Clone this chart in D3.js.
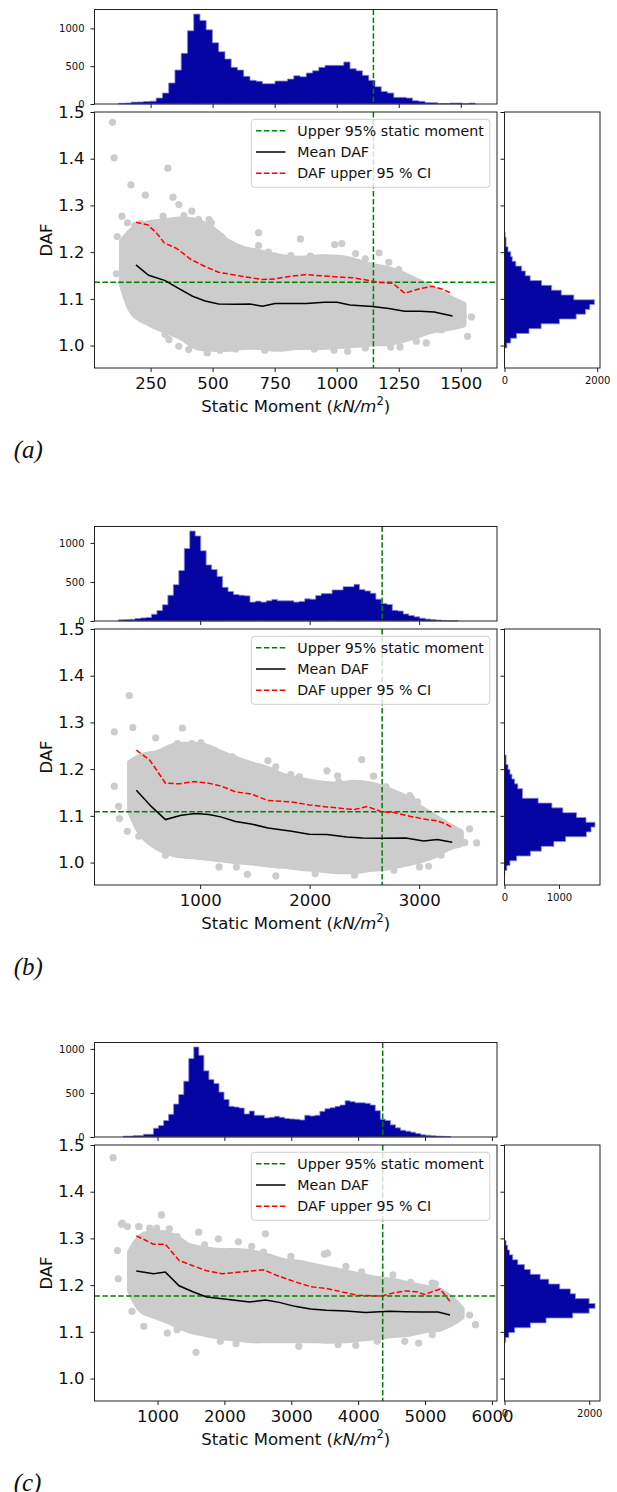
<!DOCTYPE html>
<html>
<head>
<meta charset="utf-8">
<title>DAF vs static moment</title>
<script src="https://cdn.jsdelivr.net/npm/d3@7"></script>
<style>
  body { margin: 0; background: #fff; }
  svg { font-family: "DejaVu Sans", sans-serif; }
</style>
</head>
<body>
<script>

// ---------- data ----------
// panel (a)
var xDomA = [24, 1646];
var xTicksA = [250, 500, 750, 1000, 1250, 1500];
var topBinsA = [121.3, 25.2];          // first edge, bin width (kN/m2)
var topHistA = [10, 13, 25, 27, 33, 38, 79, 145, 278, 449, 670, 969, 1189, 1106, 982, 810, 692, 595, 485, 449,
                366, 313, 300, 269, 269, 304, 304, 330, 374, 361, 410, 440, 485, 511, 511, 511, 555, 467, 440, 379,
                313, 229, 167, 145, 88, 88, 79, 44, 35, 20, 18, 5, 5, 13, 13, 3, 12];
var sideBinsA = [0.995, 0.0103];      // first edge, bin width (DAF)
var sideHistA = [50, 134, 260, 529, 790, 1184, 1546, 1747, 1840, 1940, 1495, 1226, 1016, 800, 554, 450, 370, 244,
                 168, 134, 76, 34, 34, 15];
var sideTicksA = [0, 2000];
var meanXA = [191, 242, 309, 359, 419, 470, 524, 593, 650, 701, 752, 878, 951, 1002, 1053, 1144, 1210, 1274, 1337, 1393, 1467];
var meanA  = [1.1727, 1.1506, 1.139, 1.1235, 1.1056, 1.0956, 1.0892, 1.0885, 1.0892, 1.0842, 1.0899, 1.0899, 1.0928,
              1.0928, 1.0871, 1.0835, 1.0792, 1.0735, 1.0735, 1.072, 1.0635];
var ciXA = [191, 239, 277, 305, 356, 413, 467, 524, 593, 641, 701, 752, 815, 878, 941, 1005, 1068, 1131, 1172, 1226,
            1274, 1337, 1384, 1426, 1457];
var ciA  = [1.2641, 1.2584, 1.2391, 1.2198, 1.2077, 1.1842, 1.1699, 1.157, 1.1506, 1.1463, 1.1413, 1.1428, 1.1485,
            1.152, 1.1492, 1.147, 1.1449, 1.1392, 1.1349, 1.1335, 1.112, 1.122, 1.127, 1.1206, 1.1128];
var cloudXA  = [134.5, 182, 245, 308.5, 372, 435, 498, 562, 625, 688, 752, 847, 941.5, 1036, 1131, 1226, 1305.5, 1384.5, 1463.5, 1511];
var cloudHiA = [1.222, 1.25, 1.262, 1.266, 1.27, 1.266, 1.25, 1.222, 1.207, 1.2, 1.192, 1.186, 1.189,
                1.186, 1.172, 1.161, 1.143, 1.122, 1.1, 1.088];
var cloudLoA = [1.132, 1.068, 1.047, 1.032, 1.018, 0.997, 0.993, 0.993, 0.997, 0.997, 0.993, 0.997, 0.997,
                1.0, 1.004, 1.007, 1.018, 1.032, 1.039, 1.045];
var pointsA = [[96.5,1.478],[103,1.4019],[319.6,1.3797],[171,1.344],[229,1.322],[340,1.3176],[134.5,1.277],[112,1.1535],
  [157,1.2627],[115.5,1.2334],[147,1.2184],[364,1.3019],[416,1.2877],[486,1.2698],[685,1.2413],[854,1.2284],[685,1.2141],
  [725,1.1999],[992,1.2163],[1020.6,1.2184],[1076,1.197],[1171,1.1984],[1210,1.1784],[1297.5,1.1399],[1345,1.1199],
  [1408,1.1128],[1479,1.0935],[1543,1.0614],[1527,1.02],[1361,1.0057],[1218,0.9971],[1255,0.9971],[1044,0.9879],
  [710,0.99],[751.6,0.9971],[478,0.9843],[308.5,1.0236],[253,1.05],[237,1.0592],[198,1.07],[177,1.0964],[1448,1.07],
  [1424,1.0343],[1464,1.0592],[1511,1.0628],
  [186.7,1.257],[210.4,1.2612],[269,1.2577],[300.6,1.277],[384.5,1.2784],[443,1.2698],[495,1.2627],[533,1.2341],
  [558.5,1.2127],[593,1.2091],[625,1.202],[751.6,1.1913],[815,1.1927],[894,1.1913],[1115.5,1.1856],[1250,1.1627],
  [324,1.0128],[364,0.9986],[403.5,0.9914],[530,0.99],[593,0.9929],[910,0.9929],[989,0.99],[1115.5,0.995],
  [1321,1.0093],[1416,1.0343]];
var upperMomentA = 1148, upperDafA = 1.1355;

// panel (b)
var xDomB = [35, 3711];
var xTicksB = [1000, 2000, 3000];
var topBinsB = [255, 50];
var topHistB = [15, 19, 22, 32, 40, 46, 87, 133, 208, 330, 465, 646, 928, 1152, 1089, 899, 718, 659, 571, 431, 377, 339,
                330, 322, 242, 255, 242, 259, 276, 259, 259, 259, 242, 251, 284, 280, 326, 351, 351, 398, 398, 440, 440,
                469, 402, 385, 356, 280, 225, 212, 137, 128, 91, 70, 53, 36, 25, 18, 12, 8, 5, 4];
var sideBinsB = [0.9729, 0.0103];
var sideHistB = [7, 43, 100, 223, 475, 676, 906, 1122, 1503, 1589, 1661, 1496, 1323, 1071, 870, 618, 331, 331, 244,
                 187, 137, 100, 65, 29, 29];
var sideTicksB = [0, 1000];
var meanXB = [417, 558, 683, 827, 960, 1079, 1187, 1324, 1464, 1619, 1835, 1996, 2158, 2338, 2482, 2662, 2878, 2932, 3040, 3165, 3302];
var meanB  = [1.1549, 1.1192, 1.0921, 1.1014, 1.1049, 1.1028, 1.0978, 1.0878, 1.0828, 1.0742, 1.0671, 1.0607, 1.06,
              1.055, 1.0528, 1.0521, 1.0528, 1.0507, 1.0464, 1.0492, 1.0435];
var ciXB = [417, 540, 683, 809, 942, 1079, 1187, 1324, 1464, 1619, 1835, 1996, 2158, 2338, 2410, 2525, 2662, 2770, 2914,
            3057, 3165, 3237, 3302];
var ciB  = [1.2405, 1.2191, 1.1699, 1.1685, 1.1734, 1.1699, 1.1642, 1.1513, 1.147, 1.1328, 1.1299, 1.1235, 1.1192,
            1.1149, 1.1135, 1.1199, 1.1085, 1.1071, 1.0992, 1.0928, 1.0892, 1.0835, 1.0749];
var cloudXB  = [360, 467.6, 611.5, 755.4, 899, 1043, 1187, 1331, 1475, 1619, 1762.6, 1906.4, 2050, 2230, 2410, 2554,
                2698, 2842, 2985.5, 3129.4, 3273, 3381];
var cloudHiB = [1.214, 1.228, 1.235, 1.249, 1.252, 1.249, 1.235, 1.221, 1.21, 1.2, 1.185, 1.178, 1.171,
                1.167, 1.171, 1.167, 1.157, 1.143, 1.121, 1.1, 1.079, 1.065];
var cloudLoB = [1.11, 1.06, 1.032, 1.018, 1.014, 1.011, 1.007, 1.003, 1.0, 0.996, 0.993, 0.989, 0.986,
                0.982, 0.982, 0.986, 0.989, 0.996, 1.003, 1.014, 1.032, 1.039];
var pointsB = [[352.5,1.3576],[216,1.2798],[385,1.2891],[593.5,1.267],[838,1.2877],[1007,1.257],[924.5,1.2548],
  [798.6,1.2477],[1126,1.2405],[1316.5,1.2213],[1618.7,1.2177],[1421,1.1963],[1827,1.1884],[2158,1.1963],[2255.5,1.1856],
  [2475,1.2206],[2583,1.1849],[2914,1.1435],[2932,1.137],[3129,1.0764],[3237,1.0742],[3327,1.0585],[3460,1.0721],
  [3525,1.0421],[3417,1.0428],[3255,1.0385],[3003.5,0.9907],[3086,0.9921],[1690.6,0.9714],[1431.6,0.975],[1172.7,0.9907],
  [216,1.1635],[262.6,1.0942],[334.5,1.0671],[439,1.0564],[256,1.1206],
  [683.5,1.2405],[791.4,1.2548],[1043,1.2477],[1295,1.2263],[1690.6,1.2049],[1906.4,1.1834],[2266,1.1727],[2698,1.162],
  [2985.5,1.1299],[683.5,1.0157],[1331,0.9907],[2050,0.9764],[2410,0.9729],[2770,0.9836],[3201,1.0157]];
var upperMomentB = 2662, upperDafB = 1.1086;

// panel (c)
var xDomC = [58, 6076];
var xTicksC = [1000, 2000, 3000, 4000, 5000, 6000];
var topBinsC = [487, 75.4];
var topHistC = [10, 10, 17, 17, 32, 32, 100, 130, 187, 258, 374, 483, 634, 890, 1022, 928, 751, 653, 608, 510, 427, 348,
                340, 329, 262, 295, 247, 247, 217, 224, 235, 224, 209, 205, 202, 194, 247, 239, 247, 292, 321, 333, 348,
                363, 412, 401, 389, 389, 382, 363, 299, 202, 187, 138, 104, 77, 66, 55, 40, 25, 20, 15, 10, 8, 5];
var sideBinsC = [1.0776, 0.0104];
var sideHistC = [28, 102, 240, 610, 981, 1610, 1998, 2137, 1998, 1674, 1554, 1304, 1045, 842, 610, 472, 314, 194, 120, 74, 37];
var sideTicksC = [0, 2000];
var meanXC = [683, 941, 1117, 1323, 1528, 1734, 1998, 2379, 2614, 2819, 3054, 3289, 3524, 3817, 4111, 4463, 4697, 4932, 5196, 5372];
var meanC  = [1.2301, 1.2244, 1.2279, 1.1987, 1.1859, 1.1745, 1.1702, 1.1638, 1.1681, 1.1631, 1.1546, 1.1489, 1.146,
              1.1446, 1.1417, 1.1439, 1.1432, 1.1425, 1.1425, 1.136];
var ciXC = [683, 941, 1117, 1323, 1528, 1734, 1968, 2232, 2584, 2819, 3054, 3289, 3524, 3817, 3993, 4345, 4521, 4697,
            4873, 4991, 5226, 5372];
var ciC  = [1.3056, 1.2877, 1.2877, 1.2528, 1.2415, 1.2308, 1.2244, 1.2279, 1.2329, 1.2187, 1.2073, 1.1966, 1.193,
            1.1838, 1.1781, 1.1766, 1.183, 1.1873, 1.1859, 1.1802, 1.1916, 1.1652];
var cloudXC  = [589, 765, 1000, 1235, 1470, 1704, 1939, 2174, 2409, 2643, 2878, 3113, 3348, 3582, 3817, 4052, 4287,
                4521, 4756, 4991, 5226, 5402, 5548];
var cloudHiC = [1.27, 1.305, 1.312, 1.305, 1.284, 1.277, 1.273, 1.273, 1.27, 1.262, 1.252, 1.248, 1.241,
                1.234, 1.227, 1.22, 1.213, 1.209, 1.202, 1.195, 1.188, 1.17, 1.149];
var cloudLoC = [1.188, 1.146, 1.132, 1.118, 1.103, 1.096, 1.089, 1.086, 1.082, 1.082, 1.082, 1.082, 1.082,
                1.081, 1.082, 1.086, 1.089, 1.093, 1.096, 1.103, 1.107, 1.118, 1.132];
var pointsC = [[336.8,1.4729],[1059,1.3504],[472,1.3327],[548,1.3255],[718,1.3255],[988,1.322],[1176,1.3205],[401,1.2742],
  [460,1.3305],[724,1.3255],[1616,1.3134],[1910,1.2991],[2209,1.2927],[2614,1.3098],[2585,1.2707],[3494,1.2664],
  [3541,1.2685],[3670,1.2308],[4052,1.2286],[4287,1.2115],[4786,1.2058],[5155,1.203],[5519,1.1439],[5666,1.136],
  [5754,1.1154],[4903,1.0762],[4697,1.0798],[3964,1.0712],[3700,1.0726],[2174,1.0748],[1575,1.0563],[1147,1.0976],
  [795,1.1118],[619,1.1439],[413,1.2137],
  [883,1.3219],[1293,1.3041],[1704,1.2863],[2409,1.2828],[2995.5,1.2614],[3817,1.24],[4521,1.2222],[5108,1.2044],
  [1293,1.1047],[1939,1.0798],[3113,1.0691],[4287,1.0798],[5108,1.094]];
var upperMomentC = 4367, upperDafC = 1.1767;

var dafTicks = [1.0, 1.1, 1.2, 1.3, 1.4, 1.5];
var countTicks = [0, 500, 1000];
var legendLabels = ['Upper 95% static moment', 'Mean DAF', 'DAF upper 95 % CI'];

// ---------- layout ----------
var L = 94.5, R = 497, sideL = 504.5, sideR = 600;
var topT = 9.5, topB = 104, mainT = 112, mainB = 368;
var histFill = '#0505a3', histEdge = '#8a8ad6', dotColor = '#cccccc';
var green = '#008000', dash = '5.5,2.4';

var panels = [
  {oy: 0, tag: '(a)', xDom: xDomA, xTicks: xTicksA, topBins: topBinsA, top: topHistA, topMax: 1250,
   sideBins: sideBinsA, side: sideHistA, sideMax: 2060, sideTicks: sideTicksA,
   meanX: meanXA, mean: meanA, ciX: ciXA, ci: ciA, cx: cloudXA, chi: cloudHiA, clo: cloudLoA, pts: pointsA,
   vx: upperMomentA, hy: upperDafA},
  {oy: 517, tag: '(b)', xDom: xDomB, xTicks: xTicksB, topBins: topBinsB, top: topHistB, topMax: 1210,
   sideBins: sideBinsB, side: sideHistB, sideMax: 1753, sideTicks: sideTicksB,
   meanX: meanXB, mean: meanB, ciX: ciXB, ci: ciB, cx: cloudXB, chi: cloudHiB, clo: cloudLoB, pts: pointsB,
   vx: upperMomentB, hy: upperDafB},
  {oy: 1033, tag: '(c)', xDom: xDomC, xTicks: xTicksC, topBins: topBinsC, top: topHistC, topMax: 1073,
   sideBins: sideBinsC, side: sideHistC, sideMax: 2254, sideTicks: sideTicksC,
   meanX: meanXC, mean: meanC, ciX: ciXC, ci: ciC, cx: cloudXC, chi: cloudHiC, clo: cloudLoC, pts: pointsC,
   vx: upperMomentC, hy: upperDafC}
];

var svg = d3.select('body').append('svg').attr('width', 617).attr('height', 1492);

function styleAxis(ga, size) {
  ga.attr('font-family', '"DejaVu Sans", sans-serif').attr('font-size', size);
  ga.select('.domain').remove();
  ga.selectAll('.tick line').attr('stroke', '#000').attr('stroke-width', 0.9);
  ga.selectAll('.tick text').attr('fill', '#111');
}

function frame(g, x0, y0, x1, y1) {
  g.append('rect').attr('x', x0).attr('y', y0).attr('width', x1 - x0).attr('height', y1 - y0)
    .attr('fill', 'none').attr('stroke', '#222').attr('stroke-width', 1);
}

panels.forEach(function(p) {
  var g = svg.append('g').attr('transform', 'translate(0,' + p.oy + ')');
  var x = d3.scaleLinear().domain(p.xDom).range([L, R]);
  var y = d3.scaleLinear().domain([0.952, 1.5]).range([mainB, mainT]);
  var ty = d3.scaleLinear().domain([0, p.topMax]).range([topB, topT]);
  var sx = d3.scaleLinear().domain([0, p.sideMax]).range([sideL, sideR]);

  // top histogram
  var tp = p.top.map(function(c, i) { return {e: p.topBins[0] + i * p.topBins[1], c: c}; });
  tp.push({e: p.topBins[0] + p.top.length * p.topBins[1], c: p.top[p.top.length - 1]});
  g.append('path')
    .attr('d', d3.area().curve(d3.curveStepAfter).x(function(d) { return x(d.e); })
      .y0(ty(0)).y1(function(d) { return ty(d.c); })(tp))
    .attr('fill', histFill).attr('stroke', histEdge).attr('stroke-width', 0.8);
  g.append('line').attr('x1', x(p.vx)).attr('x2', x(p.vx)).attr('y1', topT).attr('y2', topB)
    .attr('stroke', green).attr('stroke-width', 1.5).attr('stroke-dasharray', dash);
  var gtx = g.append('g').attr('transform', 'translate(0,' + topB + ')')
    .call(d3.axisBottom(x).tickValues(p.xTicks).tickFormat('').tickSize(4));
  styleAxis(gtx, 10);
  var gty = g.append('g').attr('transform', 'translate(' + L + ',0)')
    .call(d3.axisLeft(ty).tickValues(countTicks).tickFormat(d3.format('d')).tickSize(4).tickPadding(6));
  styleAxis(gty, 10);
  frame(g, L, topT, R, topB);

  // side histogram
  var sp = p.side.map(function(c, i) { return {e: p.sideBins[0] + i * p.sideBins[1], c: c}; });
  sp.push({e: p.sideBins[0] + p.side.length * p.sideBins[1], c: p.side[p.side.length - 1]});
  g.append('path')
    .attr('d', d3.area().curve(d3.curveStepBefore).y(function(d) { return y(d.e); })
      .x0(sx(0)).x1(function(d) { return sx(d.c); })(sp))
    .attr('fill', histFill).attr('stroke', histEdge).attr('stroke-width', 0.8);
  var gsx = g.append('g').attr('transform', 'translate(0,' + mainB + ')')
    .call(d3.axisBottom(sx).tickValues(p.sideTicks).tickFormat(d3.format('d')).tickSize(4).tickPadding(5));
  styleAxis(gsx, 10);
  var gsy = g.append('g').attr('transform', 'translate(' + sideL + ',0)')
    .call(d3.axisLeft(y).tickValues(dafTicks).tickFormat('').tickSize(4));
  styleAxis(gsy, 10);
  frame(g, sideL, mainT, sideR, mainB);

  // main scatter: dense cloud + individual points
  var cloud = p.cx.map(function(v, i) { return {m: v, hi: p.chi[i], lo: p.clo[i]}; });
  g.append('path')
    .attr('d', d3.area().curve(d3.curveCatmullRom).x(function(d) { return x(d.m); })
      .y0(function(d) { return y(d.lo); }).y1(function(d) { return y(d.hi); })(cloud))
    .attr('fill', dotColor).attr('stroke', dotColor).attr('stroke-width', 6).attr('stroke-linejoin', 'round');
  g.selectAll('circle.pt').data(p.pts).enter().append('circle').attr('class', 'pt')
    .attr('cx', function(d) { return x(d[0]); }).attr('cy', function(d) { return y(d[1]); })
    .attr('r', 3.6).attr('fill', dotColor);

  // reference lines
  g.append('line').attr('x1', x(p.vx)).attr('x2', x(p.vx)).attr('y1', mainT).attr('y2', mainB)
    .attr('stroke', green).attr('stroke-width', 1.5).attr('stroke-dasharray', dash);
  g.append('line').attr('x1', L).attr('x2', R).attr('y1', y(p.hy)).attr('y2', y(p.hy))
    .attr('stroke', green).attr('stroke-width', 1.5).attr('stroke-dasharray', dash);

  var line = d3.line().x(function(d) { return x(d[0]); }).y(function(d) { return y(d[1]); });
  g.append('path').attr('d', line(p.meanX.map(function(v, i) { return [v, p.mean[i]]; })))
    .attr('fill', 'none').attr('stroke', '#000').attr('stroke-width', 1.5);
  g.append('path').attr('d', line(p.ciX.map(function(v, i) { return [v, p.ci[i]]; })))
    .attr('fill', 'none').attr('stroke', 'red').attr('stroke-width', 1.5).attr('stroke-dasharray', dash);

  // main axes
  var gx = g.append('g').attr('transform', 'translate(0,' + mainB + ')')
    .call(d3.axisBottom(x).tickValues(p.xTicks).tickFormat(d3.format('d')).tickSize(4).tickPadding(5));
  styleAxis(gx, 16.5);
  var gy = g.append('g').attr('transform', 'translate(' + L + ',0)')
    .call(d3.axisLeft(y).tickValues(dafTicks).tickFormat(d3.format('.1f')).tickSize(4).tickPadding(6));
  styleAxis(gy, 16.5);
  frame(g, L, mainT, R, mainB);

  // legend
  var lw = 238.4, lx = R - 7.2 - lw, ly = mainT + 7.3;
  g.append('rect').attr('x', lx).attr('y', ly).attr('width', lw).attr('height', 68).attr('rx', 3)
    .attr('fill', '#fff').attr('fill-opacity', 0.8).attr('stroke', '#d0d0d0').attr('stroke-width', 1);
  var styles = [[green, dash], ['#000', null], ['red', dash]];
  legendLabels.forEach(function(t, i) {
    var cy = ly + 11.4 + i * 21.3;
    g.append('line').attr('x1', lx + 4.6).attr('x2', lx + 34.1).attr('y1', cy).attr('y2', cy)
      .attr('stroke', styles[i][0]).attr('stroke-width', 1.5).attr('stroke-dasharray', styles[i][1]);
    g.append('text').attr('x', lx + 45.9).attr('y', cy).attr('dy', '0.35em')
      .attr('font-size', 14.2).attr('fill', '#111').text(t);
  });

  // axis titles
  var xl = g.append('text').attr('x', (L + R) / 2).attr('y', 412).attr('text-anchor', 'middle')
    .attr('font-size', 16.5).attr('fill', '#111');
  xl.append('tspan').text('Static Moment (');
  xl.append('tspan').attr('font-style', 'italic').text('kN/m');
  xl.append('tspan').attr('dy', -7).attr('font-size', 11.5).text('2');
  xl.append('tspan').attr('dy', 7).text(')');
  g.append('text').attr('transform', 'translate(46.3,' + (mainT + mainB) / 2 + ') rotate(-90)')
    .attr('text-anchor', 'middle').attr('dy', '0.35em').attr('font-size', 16.5).attr('fill', '#111').text('DAF');

  // panel tag
  g.append('text').attr('x', 13.7).attr('y', 457.7).attr('font-family', '"Liberation Serif", serif')
    .attr('font-style', 'italic').attr('font-size', 25).attr('fill', '#111').text(p.tag);
});

</script>
</body>
</html>
